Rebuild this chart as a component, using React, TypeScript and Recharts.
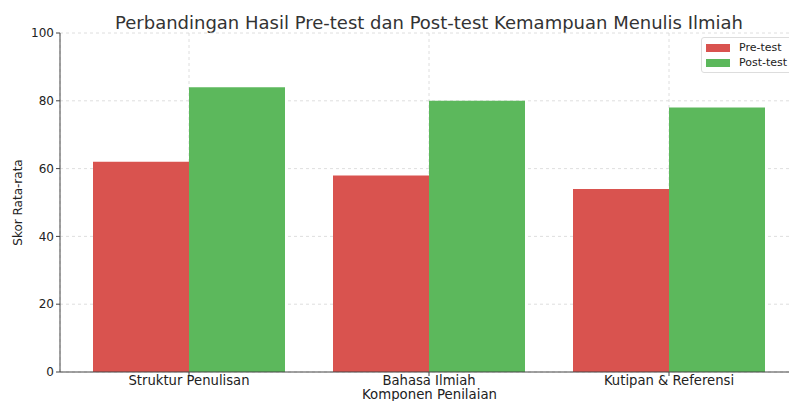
import { BarChart, Bar, XAxis, YAxis, CartesianGrid } from 'recharts';

const categories = ['Struktur Penulisan', 'Bahasa Ilmiah', 'Kutipan & Referensi'];
const preTest = [62, 58, 54];
const postTest = [84, 80, 78];
const yTicks = [0, 20, 40, 60, 80, 100];

const data = categories.map((name, i) => ({ name, pre: preTest[i], post: postTest[i] }));

const FONT = '"DejaVu Sans", sans-serif';

const YLabel = (props: any) => {
  const vb = props.viewBox;
  const cy = vb.y + vb.height / 2;
  return (
    <text x={22} y={cy} transform={`rotate(-90, 22, ${cy})`} textAnchor="middle" fontSize={12} fill="#222" fontFamily={FONT}>
      Skor Rata-rata
    </text>
  );
};

const XLabel = (props: any) => {
  const vb = props.viewBox;
  const cx = vb.x + vb.width / 2;
  return (
    <text x={cx} y={399} textAnchor="middle" fontSize={13.3} fill="#222" fontFamily={FONT}>
      Komponen Penilaian
    </text>
  );
};

const legendItems = [
  { c: '#d9534f', t: 'Pre-test' },
  { c: '#5cb85c', t: 'Post-test' },
];

export default function App() {
  return (
    <div style={{ width: 789, height: 401, overflow: 'hidden', position: 'relative', background: '#fff' }}>
      <style>{'body { margin: 0; }'}</style>
      <div style={{ position: 'absolute', left: 0, top: 12, width: 858, textAlign: 'center', fontFamily: FONT, fontSize: 18, color: '#333' }}>
        Perbandingan Hasil Pre-test dan Post-test Kemampuan Menulis Ilmiah
      </div>
      <BarChart
        width={810}
        height={401}
        data={data}
        margin={{ top: 33, right: 11, bottom: 0, left: 0 }}
        barCategoryGap={24}
        barGap={0}
      >
        <CartesianGrid strokeDasharray="3 3" stroke="#d6d6d6" strokeWidth={0.8} />
        <XAxis
          dataKey="name"
          height={29}
          padding={{ left: 9, right: 10 }}
          tick={{ fontSize: 13.2, fill: '#222', fontFamily: FONT }}
          tickSize={4}
          tickMargin={0}
          axisLine={{ stroke: '#444' }}
          tickLine={{ stroke: '#444' }}
          label={<XLabel />}
        />
        <YAxis
          width={60}
          domain={[0, 100]}
          ticks={yTicks}
          tick={{ fontSize: 12, fill: '#222', fontFamily: FONT }}
          tickSize={4}
          tickMargin={2}
          axisLine={{ stroke: '#444' }}
          tickLine={{ stroke: '#444' }}
          label={<YLabel />}
        />
        <Bar dataKey="pre" name="Pre-test" fill="#d9534f" isAnimationActive={false} />
        <Bar dataKey="post" name="Post-test" fill="#5cb85c" isAnimationActive={false} />
      </BarChart>
      <div style={{ position: 'absolute', left: 701, top: 37, width: 92, border: '1px solid #ddd', borderRadius: 3, background: 'rgba(255,255,255,0.9)', padding: '2px 0 2px 4px', fontFamily: FONT, fontSize: 11, color: '#222', boxSizing: 'border-box' }}>
        {legendItems.map((e) => (
          <div key={e.t} style={{ display: 'flex', alignItems: 'center', height: 15 }}>
            <span style={{ display: 'inline-block', width: 24, height: 8, background: e.c, marginRight: 9 }} />
            <span>{e.t}</span>
          </div>
        ))}
      </div>
    </div>
  );
}
